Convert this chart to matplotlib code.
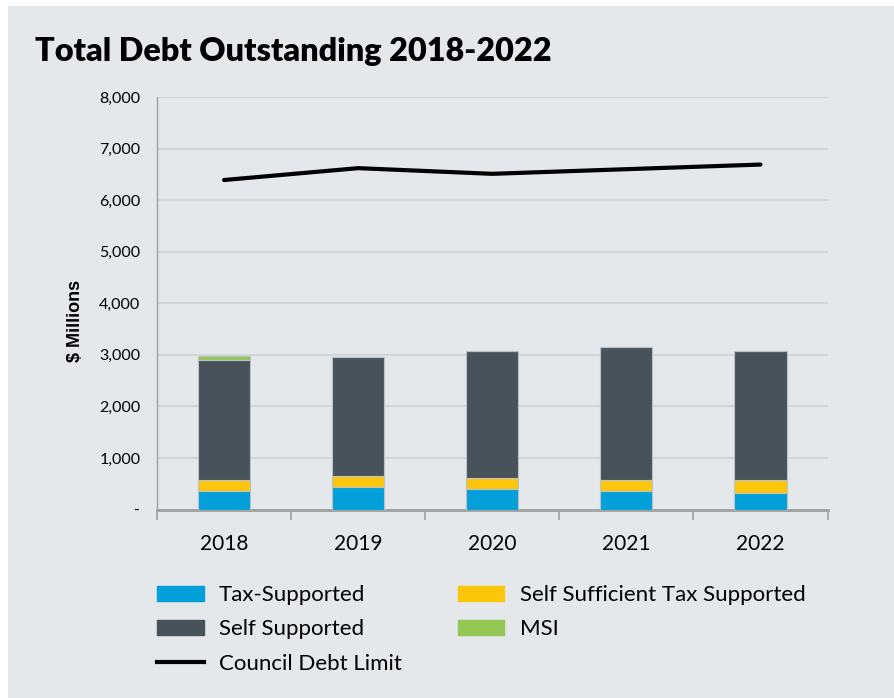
import numpy as np
import matplotlib.pyplot as plt
from matplotlib.patches import Rectangle, Patch
from matplotlib.lines import Line2D
from matplotlib.ticker import FixedLocator, FuncFormatter

years = ['2018', '2019', '2020', '2021', '2022']
tax_supported = [350, 440, 390, 350, 320]
self_sufficient_tax = [230, 210, 220, 230, 260]
self_supported = [2320, 2300, 2460, 2570, 2490]
msi = [80, 0, 0, 0, 0]
council_limit = [6390, 6620, 6510, 6600, 6690]

BG = '#e4e8eb'
colors = {
    'Tax-Supported': '#029fd9',
    'Self Sufficient Tax Supported': '#fec60a',
    'Self Supported': '#47525b',
    'MSI': '#92c853',
}

fig = plt.figure(figsize=(8.94, 6.98), dpi=100)
fig.patch.set_facecolor('white')
fig.patches.append(Rectangle((8 / 894, 0), 1, 1 - 6 / 698, transform=fig.transFigure,
                             facecolor=BG, edgecolor='none', zorder=-10))

ax = fig.add_axes([157 / 894, 1 - 509.5 / 698, 670.5 / 894, 412.5 / 698])
ax.set_facecolor(BG)

x = np.arange(len(years))
width = 0.39
bottom = np.zeros(len(years))
series = [('Tax-Supported', tax_supported),
          ('Self Sufficient Tax Supported', self_sufficient_tax),
          ('Self Supported', self_supported),
          ('MSI', msi)]
for name, vals in series:
    vals = np.array(vals, dtype=float)
    ax.bar(x, vals, width, bottom=bottom, color=colors[name],
           edgecolor='#b9c2c9', linewidth=0.8, zorder=3)
    bottom += vals

ax.plot(x, council_limit, color='black', linewidth=3, solid_capstyle='round', zorder=4)

ax.set_xlim(-0.5, len(years) - 0.5)
ax.set_ylim(0, 8000)
ax.yaxis.set_major_locator(FixedLocator(range(0, 8001, 1000)))
ax.yaxis.set_major_formatter(FuncFormatter(lambda v, p: '-' if v == 0 else f'{int(v):,}'))
ax.grid(axis='y', color='#d3d6d8', linewidth=1.5, zorder=0)
ax.set_axisbelow(True)

ax.set_xticks(x)
ax.set_xticklabels(years, fontsize=15, family='Lato')
ax.set_xticks(np.arange(-0.5, len(years)), minor=True)
ax.tick_params(axis='x', which='major', length=0, pad=18)
ax.tick_params(axis='x', which='minor', length=7, width=1.2, color='#a0a0a0')
ax.tick_params(axis='y', length=0, pad=12, labelsize=11.5)
for lab in ax.get_yticklabels():
    lab.set_family('Lato')

for side in ['top', 'right']:
    ax.spines[side].set_visible(False)
ax.spines['left'].set_color('#a0a0a0')
ax.spines['left'].set_linewidth(1)
ax.spines['bottom'].set_color('#a0a0a0')
ax.spines['bottom'].set_linewidth(2)

ax.set_ylabel('$ Millions', fontsize=13, fontweight='bold', family='Liberation Sans')
ax.yaxis.set_label_coords(-0.109, 0.457)

fig.text(35 / 894, 1 - 61 / 698, 'Total Debt Outstanding 2018-2022', fontsize=23.3,
         fontweight='heavy', family='Lato', ha='left', va='baseline')

handles = [Patch(color=colors['Tax-Supported'], label='Tax-Supported'),
           Patch(color=colors['Self Supported'], label='Self Supported'),
           Line2D([], [], color='black', linewidth=3, label='Council Debt Limit'),
           Patch(color=colors['Self Sufficient Tax Supported'], label='Self Sufficient Tax Supported'),
           Patch(color=colors['MSI'], label='MSI')]
leg = fig.legend(handles=handles, ncol=2, loc='upper left',
                 bbox_to_anchor=(148 / 894, 1 - 576 / 698), frameon=False,
                 prop={'family': 'Lato', 'size': 16}, handlelength=2.1, handleheight=0.65,
                 handletextpad=0.7, columnspacing=2.5, labelspacing=0.65, borderaxespad=0)

fig.savefig('out.png', dpi=100, facecolor=fig.get_facecolor())
